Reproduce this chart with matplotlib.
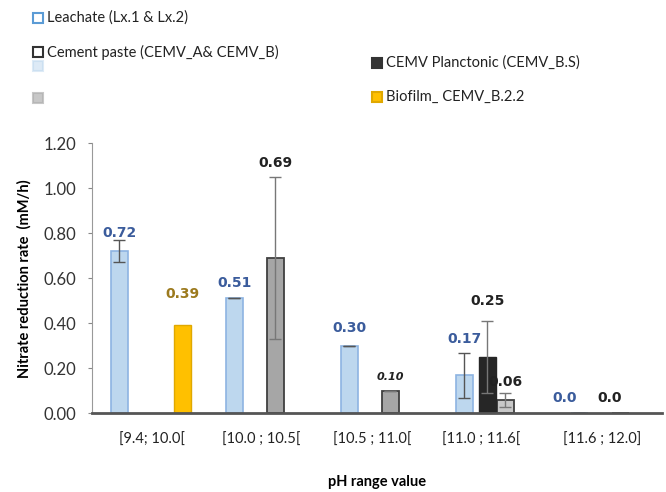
import numpy as np
import matplotlib
matplotlib.use("Agg")
import matplotlib.pyplot as plt

plt.rcParams['font.family'] = ['Lato', 'DejaVu Sans']

# data
categories = ["[9.4; 10.0[", "[10.0 ; 10.5[", "[10.5 ; 11.0[", "[11.0 ; 11.6[", "[11.6 ; 12.0]"]
leachate = [0.72, 0.51, 0.30, 0.17, 0.0]
leachate_err = [0.05, 0.0, 0.0, 0.10, 0.0]
cement = [np.nan, 0.69, 0.10, 0.06, 0.0]
cement_err = [0.0, 0.36, 0.0, 0.03, 0.0]
planctonic = [np.nan, np.nan, np.nan, 0.25, np.nan]
planctonic_err = [0.0, 0.0, 0.0, 0.16, 0.0]
biofilm = [0.39, np.nan, np.nan, np.nan, np.nan]

fig = plt.figure(figsize=(6.66, 4.92), dpi=100)
ax = fig.add_axes([0.138, 0.160, 0.856, 0.549])

x = np.arange(len(categories))
w = 0.148
blue_txt = "#3B5C9C"
o_l, o_c, o_p, o_b = -0.2, 0.157, 0.0, 0.35

ax.bar(x + o_l, leachate, w, color="#BDD7EE", edgecolor="#8DB4E2", linewidth=1.2)
ax.errorbar(x + o_l, leachate, yerr=leachate_err, fmt="none", ecolor="#555555", capsize=4, elinewidth=1)

cem_colors = ["#A6A6A6", "#A6A6A6", "#A6A6A6", "#C8C8C8", "#A6A6A6"]
ax.bar(x + o_c, cement, w, color=cem_colors, edgecolor="#404040", linewidth=1.3)
ax.errorbar(x + o_c, cement, yerr=cement_err, fmt="none", ecolor="#777777", capsize=4, elinewidth=1)

ax.bar(x + o_p, planctonic, w, color="#262626", edgecolor="#262626")
ax.errorbar(x + o_p, planctonic, yerr=planctonic_err, fmt="none", ecolor="#777777", capsize=4, elinewidth=1)

ax.bar(x + o_b, biofilm, w, color="#FFC000", edgecolor="#E0A800")

# value labels
lab_kw = dict(ha="center", va="center", fontsize=10, fontweight="bold", family="DejaVu Sans")
leach_pad = [0.08, 0.07, 0.08, 0.16, 0.07]
for i, (v, p) in enumerate(zip(leachate, leach_pad)):
    ax.text(x[i] + (-0.33 if i == 4 else o_l), v + p, f"{v:.1f}" if i == 4 else f"{v:.2f}",
            color=blue_txt, **lab_kw)
cem_pad = [0, 0.42, 0.06, 0.08, 0.07]
cem_dx = [0, 0, 0, 0.0, -0.09]
for i, (v, p, d) in enumerate(zip(cement, cem_pad, cem_dx)):
    if np.isnan(v):
        continue
    t = f"{v:.1f}" if i == 4 else f"{v:.2f}"
    kw = dict(lab_kw)
    if i == 2:
        kw.update(fontsize=8, fontstyle="italic")
    ax.text(x[i] + o_c + d, v + p, t, color="#222222", **kw)
ax.text(x[3] + o_p, planctonic[3] + 0.25, f"{planctonic[3]:.2f}", color="#222222", **lab_kw)
ax.text(x[0] + o_b, biofilm[0] + 0.14, f"{biofilm[0]:.2f}", color="#9C7A1E", **lab_kw)

ax.set_ylim(0, 1.2)
ax.set_xlim(-0.44, 4.52)
ax.set_yticks(np.arange(0, 1.21, 0.2))
ax.set_yticklabels([f"{t:.2f}" for t in np.arange(0, 1.21, 0.2)], fontsize=12, color="#333333")
ax.set_xticks(x + np.array([0.08, 0.03, 0.0, -0.05, 0.0]))
ax.set_xticklabels(categories, fontsize=10.5, color="#222222")
ax.tick_params(axis="x", length=0, pad=14)
ax.tick_params(axis="y", length=3, color="#888888", pad=8)
for s in ["top", "right"]:
    ax.spines[s].set_visible(False)
ax.spines["left"].set_color("#999999")
ax.spines["bottom"].set_color("#555555")
ax.spines["bottom"].set_linewidth(2)
ax.set_ylabel("Nitrate reduction rate  (mM/h)", fontsize=10.5, fontweight="bold", labelpad=9)
ax.set_xlabel("pH range value", fontsize=10.5, fontweight="bold", labelpad=20)

# legend drawn above the axes
def leg(px, py, face, edge, text, alpha=1.0):
    fig.patches.append(plt.Rectangle(((px - 5) / 666, 1 - (py + 5) / 492), 10 / 666, 10 / 492,
                                     facecolor=face, edgecolor=edge, linewidth=1.5,
                                     transform=fig.transFigure, figure=fig, alpha=alpha))
    if text:
        fig.text((px + 9) / 666, 1 - py / 492, text, fontsize=10.5, va="center", color="#222222")

leg(38, 18, "white", "#5B9BD5", "Leachate (Lx.1 & Lx.2)")
leg(38, 52, "white", "#333333", "Cement paste (CEMV_A& CEMV_B)")
leg(38, 66, "#BDD7EE", "#BDD7EE", "", alpha=0.5)
leg(38, 98, "#B0B0B0", "#B0B0B0", "", alpha=0.7)
leg(377, 63, "#333333", "#333333", "CEMV Planctonic (CEMV_B.S)")
leg(377, 97, "#FFC000", "#E0A800", "Biofilm_ CEMV_B.2.2")

fig.savefig("out.png", dpi=100)
